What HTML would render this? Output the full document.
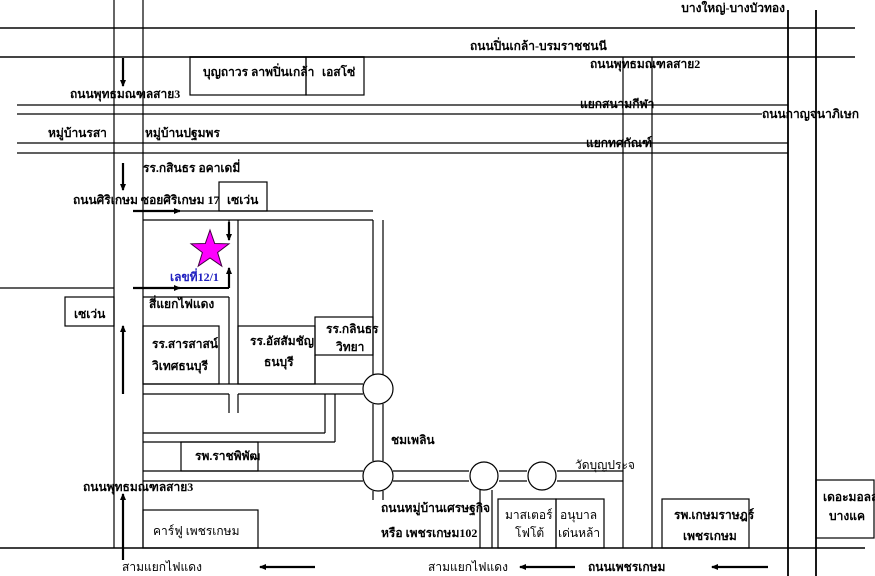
<!DOCTYPE html>
<html><head><meta charset="utf-8"><style>
html,body{margin:0;padding:0;background:#fff}
svg{display:block}
text{font-family:"Liberation Serif","DejaVu Serif",serif;font-weight:bold;font-size:12px;fill:#000}
.n{font-weight:normal}
</style></head><body>
<svg width="875" height="576" viewBox="0 0 875 576" xmlns="http://www.w3.org/2000/svg">
<defs><marker id="a" markerWidth="8" markerHeight="8" refX="6" refY="4" orient="auto" markerUnits="userSpaceOnUse"><path d="M0,1 L7,4 L0,7 Z" fill="#000"/></marker></defs>
<g stroke="#000" stroke-width="1.2" fill="none">
<line x1="0" y1="28" x2="855" y2="28" stroke="#444" stroke-width="2"/>
<line x1="0" y1="57" x2="855" y2="57" stroke="#444" stroke-width="2"/>
<line x1="114" y1="0" x2="114" y2="548"/>
<line x1="143" y1="0" x2="143" y2="548"/>
<line x1="17" y1="105" x2="788" y2="105"/>
<line x1="17" y1="114" x2="762" y2="114"/>
<line x1="17" y1="143" x2="788" y2="143"/>
<line x1="17" y1="153" x2="788" y2="153"/>
<line x1="623" y1="57" x2="623" y2="548"/>
<line x1="652" y1="57" x2="652" y2="548"/>
<line x1="788" y1="10" x2="788" y2="576" stroke-width="1.8"/>
<line x1="816" y1="10" x2="816" y2="576" stroke-width="1.8"/>
<line x1="0" y1="548" x2="865" y2="548" stroke-width="1.6"/>
<rect x="190" y="57" width="116" height="38"/>
<rect x="306" y="57" width="58" height="38"/>
<rect x="219" y="182" width="48" height="29"/>
<line x1="143" y1="211" x2="373" y2="211"/>
<line x1="143" y1="220" x2="373" y2="220"/>
<line x1="229" y1="220" x2="229" y2="240"/>
<line x1="229" y1="268" x2="229" y2="288" stroke-width="2"/>
<line x1="143" y1="288" x2="229" y2="288" stroke-width="2"/>
<line x1="238" y1="220" x2="238" y2="384"/>
<line x1="373" y1="220" x2="373" y2="375"/>
<line x1="383" y1="220" x2="383" y2="375"/>
<line x1="0" y1="288" x2="114" y2="288"/>
<rect x="65" y="297" width="49" height="29"/>
<line x1="143" y1="297" x2="229" y2="297"/>
<line x1="229" y1="297" x2="229" y2="384"/>
<rect x="143" y="326" width="76" height="58"/>
<rect x="238" y="326" width="77" height="58"/>
<rect x="315" y="317" width="58" height="38"/>
<line x1="315" y1="355" x2="315" y2="384"/>
<line x1="143" y1="384" x2="363" y2="384"/>
<line x1="143" y1="394" x2="229" y2="394"/>
<line x1="238" y1="394" x2="363" y2="394"/>
<line x1="229" y1="394" x2="229" y2="413"/>
<line x1="238" y1="394" x2="238" y2="413"/>
<line x1="325" y1="394" x2="325" y2="433"/>
<line x1="335" y1="394" x2="335" y2="442"/>
<line x1="143" y1="433" x2="325" y2="433"/>
<line x1="143" y1="442" x2="335" y2="442"/>
<rect x="181" y="442" width="77" height="29"/>
<line x1="143" y1="471" x2="363" y2="471"/>
<line x1="143" y1="481" x2="363" y2="481"/>
<line x1="373" y1="404" x2="373" y2="461"/>
<line x1="383" y1="404" x2="383" y2="461"/>
<line x1="373" y1="491" x2="373" y2="500"/>
<line x1="383" y1="491" x2="383" y2="500"/>
<line x1="393" y1="471" x2="469" y2="471"/>
<line x1="393" y1="481" x2="469" y2="481"/>
<line x1="499" y1="471" x2="527" y2="471"/>
<line x1="499" y1="481" x2="527" y2="481"/>
<line x1="557" y1="471" x2="623" y2="471"/>
<line x1="557" y1="481" x2="623" y2="481"/>
<line x1="480" y1="490" x2="480" y2="548"/>
<line x1="492" y1="490" x2="492" y2="548"/>
<circle cx="378" cy="389" r="15" fill="#fff"/>
<circle cx="378" cy="476" r="15" fill="#fff"/>
<circle cx="484" cy="476" r="14" fill="#fff"/>
<circle cx="542" cy="476" r="14" fill="#fff"/>
<rect x="143" y="510" width="115" height="38"/>
<rect x="498" y="499" width="58" height="49"/>
<rect x="556" y="499" width="48" height="49"/>
<rect x="662" y="499" width="87" height="49"/>
<rect x="816" y="480" width="58" height="58"/>
</g>
<g stroke="#000" stroke-width="2.2" marker-end="url(#a)">
<line x1="123" y1="58" x2="123" y2="86"/>
<line x1="123" y1="163" x2="123" y2="190"/>
<line x1="133" y1="211" x2="180" y2="211"/>
<line x1="133" y1="288" x2="180" y2="288"/>
<line x1="229" y1="222" x2="229" y2="240"/>
<line x1="229" y1="288" x2="229" y2="268"/>
<line x1="123" y1="394" x2="123" y2="326"/>
<line x1="123" y1="560" x2="123" y2="494"/>
<line x1="315" y1="567" x2="260" y2="567"/>
<line x1="575" y1="567" x2="520" y2="567"/>
<line x1="768" y1="567" x2="712" y2="567"/>
</g>
<polygon points="210,230 214.7,243.5 229,243.8 217.6,252.5 221.8,266.2 210,258 198.2,266.2 202.4,252.5 191,243.8 205.3,243.5" fill="#f0f" stroke="#400040" stroke-width="1"/>
<text x="785" y="12" text-anchor="end">บางใหญ่-บางบัวทอง</text>
<text x="470" y="50">ถนนปิ่นเกล้า-บรมราชชนนี</text>
<text x="590" y="68">ถนนพุทธมณฑลสาย2</text>
<text x="203" y="76" font-size="9.5">บุญถาวร ลาพปิ่นเกล้า</text>
<text x="322" y="76" font-size="10">เอสโซ่</text>
<text x="70" y="98">ถนนพุทธมณฑลสาย3</text>
<text x="580" y="108">แยกสนามกีฬา</text>
<text x="762" y="118">ถนนกาญจนาภิเษก</text>
<text x="48" y="137">หมู่บ้านรสา</text>
<text x="145" y="137">หมู่บ้านปฐมพร</text>
<text x="586" y="147">แยกทศกัณฑ์</text>
<text x="143" y="172">รร.กสินธร อคาเดมี่</text>
<text x="73" y="204">ถนนศิริเกษม ซอยศิริเกษม 17</text>
<text x="227" y="204" font-size="11">เซเว่น</text>
<text x="170" y="281" style="fill:#2020c0">เลขที่12/1</text>
<text x="149" y="308">สี่แยกไฟแดง</text>
<text x="74" y="318" font-size="10">เซเว่น</text>
<text x="152" y="348">รร.สารสาสน์</text>
<text x="152" y="370">วิเทศธนบุรี</text>
<text x="250" y="345" font-size="11">รร.อัสสัมชัญ</text>
<text x="264" y="366" font-size="11">ธนบุรี</text>
<text x="326" y="333" font-size="9">รร.กลินธร</text>
<text x="336" y="351" font-size="9">วิทยา</text>
<text x="391" y="444">ชมเพลิน</text>
<text x="195" y="460" font-size="10">รพ.ราชพิพัฒ</text>
<text x="575" y="469" font-size="10" class="n">วัดบุญประจ</text>
<text x="83" y="491">ถนนพุทธมณฑลสาย3</text>
<text x="381" y="512">ถนนหมู่บ้านเศรษฐกิจ</text>
<text x="381" y="537">หรือ เพชรเกษม102</text>
<text x="153" y="535" font-size="14" class="n">คาร์ฟู เพชรเกษม</text>
<text x="505" y="519" font-size="10" class="n">มาสเตอร์</text>
<text x="515" y="537" font-size="10" class="n">โฟโต้</text>
<text x="560" y="519" font-size="10" class="n">อนุบาล</text>
<text x="558" y="537" font-size="10" class="n">เด่นหล้า</text>
<text x="674" y="519" font-size="10">รพ.เกษมราษฎร์</text>
<text x="683" y="540" font-size="10">เพชรเกษม</text>
<text x="823" y="501" font-size="9">เดอะมอลล</text>
<text x="829" y="520" font-size="10">บางแค</text>
<text x="122" y="571" font-size="13" class="n">สามแยกไฟแดง</text>
<text x="428" y="571" font-size="13" class="n">สามแยกไฟแดง</text>
<text x="588" y="571" font-size="13">ถนนเพชรเกษม</text>
</svg>
</body></html>
